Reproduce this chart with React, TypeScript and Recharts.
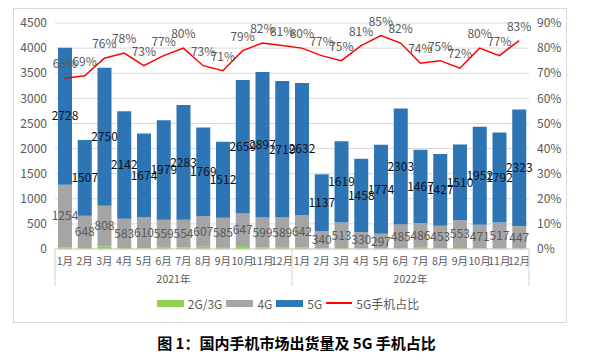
import React from "react";
import {
  ComposedChart,
  Bar,
  Line,
  XAxis,
  YAxis,
  CartesianGrid,
  Legend,
  LabelList,
} from "recharts";

const months = [
  "1月", "2月", "3月", "4月", "5月", "6月", "7月", "8月", "9月", "10月", "11月", "12月",
  "1月", "2月", "3月", "4月", "5月", "6月", "7月", "8月", "9月", "10月", "11月", "12月",
];
const years = ["2021年", "2022年"];

// 出货量（万部）
const g23 = [26, 15, 52, 20, 15, 25, 30, 45, 39, 59, 28, 37, 30, 10, 15, 10, 5, 10, 25, 10, 20, 10, 10, 10];
const g4 = [1254, 648, 808, 583, 610, 559, 554, 607, 585, 647, 599, 589, 642, 340, 513, 330, 297, 485, 486, 453, 553, 471, 517, 447];
const g5 = [2728, 1507, 2750, 2142, 1674, 1979, 2283, 1769, 1512, 2659, 2897, 2719, 2632, 1137, 1619, 1458, 1774, 2303, 1467, 1427, 1510, 1952, 1792, 2323];
const share = [68, 69, 76, 78, 73, 77, 80, 73, 71, 79, 82, 81, 80, 77, 75, 81, 85, 82, 74, 75, 72, 80, 77, 83];

const leftTicks = [0, 500, 1000, 1500, 2000, 2500, 3000, 3500, 4000, 4500];
const rightTicks = [0, 10, 20, 30, 40, 50, 60, 70, 80, 90];

const legendItems = [
  { name: "2G/3G", color: "#92d050", kind: "rect" },
  { name: "4G", color: "#a5a5a5", kind: "rect" },
  { name: "5G", color: "#2e75b6", kind: "rect" },
  { name: "5G手机占比", color: "#ff0000", kind: "line" },
];

const data = months.map((m, i) => ({
  key: `${i}`,
  month: m,
  year: years[Math.floor(i / 12)],
  g23: g23[i],
  g4: g4[i],
  g5: g5[i],
  share: share[i],
}));

const W = 552;
const H = 313;
const BAND = 474 / 24;
const FONT = '"Noto Sans CJK SC", "Noto Sans", sans-serif';

function MonthTick(props: any) {
  const { x, y, payload } = props;
  const i = props.index ?? payload.index;
  const row = data[i];
  return (
    <g>
      <text x={x} y={y + 16} textAnchor="middle" fontSize={10.5} fill="#595959" fontFamily={FONT}>
        {row.month}
      </text>
      {i % 12 === 5 && (
        <text x={x + BAND / 2} y={y + 34} textAnchor="middle" fontSize={10.5} fill="#595959" fontFamily={FONT}>
          {row.year}
        </text>
      )}
      {i % 12 === 0 && (
        <line x1={x - BAND / 2} x2={x - BAND / 2} y1={y} y2={y + 37} stroke="#d0d0d0" />
      )}
      {i === 23 && (
        <line x1={x + BAND / 2} x2={x + BAND / 2} y1={y} y2={y + 37} stroke="#d0d0d0" />
      )}
    </g>
  );
}

function renderLegend() {
  return (
    <div
      style={{
        display: "flex",
        justifyContent: "center",
        alignItems: "center",
        height: 20,
        fontFamily: FONT,
        fontSize: 12,
        color: "#595959",
      }}
    >
      {legendItems.map((it) => (
        <div key={it.name} style={{ display: "flex", alignItems: "center", marginRight: 4 }}>
          {it.kind === "rect" ? (
            <span style={{ display: "inline-block", width: 27, height: 7, background: it.color, marginRight: 4 }} />
          ) : (
            <span style={{ display: "inline-block", width: 26, height: 2, background: it.color, marginRight: 4 }} />
          )}
          <span>{it.name}</span>
        </div>
      ))}
    </div>
  );
}

export default function App() {
  return (
    <div style={{ width: 577 }}>
      <div
        style={{
          marginLeft: 5,
          width: 554,
          height: 315,
          border: "1px solid #d9d9d9",
          boxSizing: "border-box",
          background: "#fff",
        }}
      >
        <ComposedChart
          width={W}
          height={H}
          data={data}
          margin={{ top: 14, right: 0, left: 0, bottom: 9 }}
          barSize={14}
        >
          <CartesianGrid yAxisId="left" vertical={false} stroke="#d9d9d9" />
          <XAxis
            dataKey="key"
            interval={0}
            height={44}
            tickSize={0}
            tickMargin={0}
            axisLine={{ stroke: "#d0d0d0" }}
            tick={<MonthTick />}
          />
          <YAxis
            yAxisId="left"
            width={41}
            domain={[0, 4500]}
            ticks={leftTicks}
            axisLine={false}
            tickLine={false}
            tickSize={0}
            tickMargin={8}
            tick={{ fontSize: 12, fill: "#595959", fontFamily: FONT }}
          />
          <YAxis
            yAxisId="right"
            orientation="right"
            width={37}
            domain={[0, 90]}
            ticks={rightTicks}
            tickFormatter={(v: number) => `${v}%`}
            axisLine={false}
            tickLine={false}
            tickSize={0}
            tickMargin={8}
            tick={{ fontSize: 12, fill: "#595959", fontFamily: FONT, textAnchor: "start" }}
          />
          <Legend verticalAlign="bottom" height={20} content={renderLegend} />
          <Bar yAxisId="left" dataKey="g23" stackId="a" fill="#92d050" isAnimationActive={false} />
          <Bar yAxisId="left" dataKey="g4" stackId="a" fill="#a5a5a5" isAnimationActive={false}>
            <LabelList dataKey="g4" position="center" fontSize={12} fill="#595959" fontFamily={FONT} />
          </Bar>
          <Bar yAxisId="left" dataKey="g5" stackId="a" fill="#2e75b6" isAnimationActive={false}>
            <LabelList dataKey="g5" position="center" fontSize={12} fill="#111" fontFamily={FONT} />
          </Bar>
          <Line
            yAxisId="right"
            dataKey="share"
            stroke="#ff0000"
            strokeWidth={1.5}
            dot={false}
            isAnimationActive={false}
          >
            <LabelList
              dataKey="share"
              position="top"
              offset={10}
              formatter={(v: any) => `${v}%`}
              fontSize={12}
              fill="#595959"
              fontFamily={FONT}
            />
          </Line>
        </ComposedChart>
      </div>
      <div
        style={{
          marginTop: 10,
          width: 577,
          textAlign: "center",
          fontFamily: FONT,
          fontWeight: 700,
          fontSize: 15,
          lineHeight: "20px",
          color: "#000",
        }}
      >
        图 1：国内手机市场出货量及 5G 手机占比
      </div>
    </div>
  );
}
